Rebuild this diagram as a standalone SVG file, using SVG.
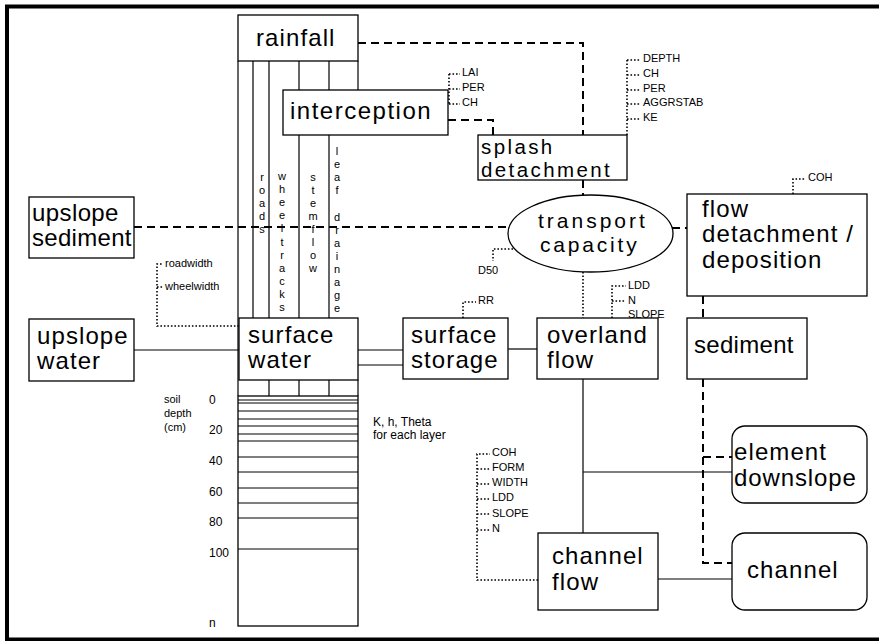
<svg xmlns="http://www.w3.org/2000/svg" width="879" height="641" viewBox="0 0 879 641">
<style>
.box{fill:#fff;stroke:#000;stroke-width:1.3}
.ln{fill:none;stroke:#000;stroke-width:1.2}
.thin{fill:none;stroke:#000;stroke-width:1}
.dash{fill:none;stroke:#000;stroke-width:2;stroke-dasharray:8 5}
.dot{fill:none;stroke:#000;stroke-width:1.6;stroke-dasharray:1.6 1.9}
.frame{fill:none;stroke:#000;stroke-width:4}
text{font-family:"Liberation Sans",Arial,sans-serif;fill:#000}
.lbl{font-size:24px;letter-spacing:1.1px}
.par{font-size:11px}
.vt{font-size:11px;text-anchor:middle}
.soil{font-size:12px}
</style>
<rect width="879" height="641" fill="#fff"/>
<path class="frame" d="M7,641 V6.5 H879 M7,639.5 H879"/>

<g id="column">
<path class="ln" d="M238,61 V396 M253,61 V318 M269,61 V318 M299,61 V90 M299,135 V318 M329,61 V90 M329,135 V318 M358,61 V90"/>
<path class="ln" d="M269,380 V396 M299,380 V396 M329,380 V396 M358,380 V396"/>
<text class="vt"><tspan x="262" y="181">r</tspan><tspan x="262" dy="13.1">o</tspan><tspan x="262" dy="13.1">a</tspan><tspan x="262" dy="13.1">d</tspan><tspan x="262" dy="13.1">s</tspan></text>
<text class="vt"><tspan x="282" y="180">w</tspan><tspan x="282" dy="13.1">h</tspan><tspan x="282" dy="13.1">e</tspan><tspan x="282" dy="13.1">e</tspan><tspan x="282" dy="13.1">l</tspan><tspan x="282" dy="13.1">t</tspan><tspan x="282" dy="13.1">r</tspan><tspan x="282" dy="13.1">a</tspan><tspan x="282" dy="13.1">c</tspan><tspan x="282" dy="13.1">k</tspan><tspan x="282" dy="13.1">s</tspan></text>
<text class="vt"><tspan x="313" y="181">s</tspan><tspan x="313" dy="13">t</tspan><tspan x="313" dy="13">e</tspan><tspan x="313" dy="13">m</tspan><tspan x="313" dy="13">f</tspan><tspan x="313" dy="13">l</tspan><tspan x="313" dy="13">o</tspan><tspan x="313" dy="13">w</tspan></text>
<text class="vt"><tspan x="337" y="155">l</tspan><tspan x="337" dy="13.1">e</tspan><tspan x="337" dy="13.1">a</tspan><tspan x="337" dy="13.1">f</tspan><tspan x="337" dy="26.2">d</tspan><tspan x="337" dy="13.1">r</tspan><tspan x="337" dy="13.1">a</tspan><tspan x="337" dy="13.1">i</tspan><tspan x="337" dy="13.1">n</tspan><tspan x="337" dy="13.1">a</tspan><tspan x="337" dy="13.1">g</tspan><tspan x="337" dy="13.1">e</tspan></text>
</g>

<g id="connectors">
<path class="dash" d="M358,43 H583 V135"/>
<path class="dash" d="M448,120 H493 V135"/>
<path class="dash" d="M583,180 V195"/>
<path class="dash" d="M134,227 H509"/>
<path class="dash" d="M672,228 H687"/>
<path class="dash" d="M703,296 V318"/>
<path class="dash" d="M703,379 V563 H732"/>
<path class="dash" d="M703,457 H732"/>
<path class="dot" d="M583,272 V318"/>
<path class="ln" d="M134,350 H239"/>
<path class="ln" d="M358,350 H403 M358,365 H403"/>
<path class="ln" d="M508,349 H537"/>
<path class="ln" d="M583,379 V533"/>
<path class="ln" d="M583,472 H732"/>
<path class="ln" d="M658,579 H732"/>
</g>

<g id="params">
<path class="dot" d="M449,74 V104 M449,74 H460 M449,89 H460 M449,104 H460"/>
<text class="par" x="462" y="76">LAI</text>
<text class="par" x="462" y="91">PER</text>
<text class="par" x="462" y="106">CH</text>
<path class="dot" d="M627,60 V135 M627,60 H641 M627,75 H641 M627,90 H641 M627,104 H641 M627,119 H641"/>
<text class="par" x="643" y="62">DEPTH</text>
<text class="par" x="643" y="77">CH</text>
<text class="par" x="643" y="92">PER</text>
<text class="par" x="643" y="106">AGGRSTAB</text>
<text class="par" x="643" y="121">KE</text>
<path class="dot" d="M793,194 V179 H806"/>
<text class="par" x="808" y="181">COH</text>
<path class="dot" d="M513,249 H493 V261"/>
<text class="par" x="478" y="274">D50</text>
<path class="dot" d="M463,318 V302 H476"/>
<text class="par" x="478" y="304">RR</text>
<path class="dot" d="M612,318 V286 H626 M612,301 H626"/>
<text class="par" x="628" y="289">LDD</text>
<text class="par" x="628" y="304">N</text>
<text class="par" x="628" y="318">SLOPE</text>
<path class="dot" d="M239,326 H157 V264 H163 M157,287 H163"/>
<text class="par" x="165" y="267">roadwidth</text>
<text class="par" x="165" y="290">wheelwidth</text>
<path class="dot" d="M538,580 H477 V454 H490 M477,469 H490 M477,484 H490 M477,499 H490 M477,514 H490 M477,530 H490"/>
<text class="par" x="492" y="456">COH</text>
<text class="par" x="492" y="471">FORM</text>
<text class="par" x="492" y="486">WIDTH</text>
<text class="par" x="492" y="501">LDD</text>
<text class="par" x="492" y="517">SLOPE</text>
<text class="par" x="492" y="532">N</text>
</g>

<g id="rainfall"><rect class="box" x="238" y="15" width="120" height="46"/><text class="lbl" x="256" y="46">rainfall</text></g>
<g id="interception"><rect class="box" x="283" y="90" width="165" height="45"/><text class="lbl" x="290" y="119" style="letter-spacing:1.5px">interception</text></g>
<g id="splash-detachment"><rect class="box" x="478" y="135" width="149" height="45"/><text class="lbl" x="481" y="154" style="font-size:20.5px;letter-spacing:2.4px">splash</text><text class="lbl" x="481" y="177" style="font-size:20.5px;letter-spacing:2.4px">detachment</text></g>
<g id="upslope-sediment"><rect class="box" x="29" y="197" width="105" height="61"/><text class="lbl" x="32" y="221" style="letter-spacing:0.4px">upslope</text><text class="lbl" x="32" y="246" style="letter-spacing:0.3px">sediment</text></g>
<g id="transport-capacity"><ellipse class="box" cx="590.5" cy="233.5" rx="82.5" ry="38.5"/><text class="lbl" x="538" y="228" style="font-size:21px;letter-spacing:3px">transport</text><text class="lbl" x="540" y="252" style="font-size:21px;letter-spacing:2.8px">capacity</text></g>
<g id="flow-detachment"><rect class="box" x="687" y="194" width="180" height="102"/><text class="lbl" x="702" y="217">flow</text><text class="lbl" x="702" y="242">detachment /</text><text class="lbl" x="702" y="268">deposition</text></g>
<g id="upslope-water"><rect class="box" x="29" y="319" width="105" height="62"/><text class="lbl" x="37" y="344">upslope</text><text class="lbl" x="37" y="369">water</text></g>
<g id="surface-water"><rect class="box" x="239" y="318" width="119" height="62"/><text class="lbl" x="248" y="343">surface</text><text class="lbl" x="248" y="368">water</text></g>
<g id="surface-storage"><rect class="box" x="403" y="318" width="105" height="61"/><text class="lbl" x="411" y="343">surface</text><text class="lbl" x="411" y="368">storage</text></g>
<g id="overland-flow"><rect class="box" x="537" y="318" width="121" height="61"/><text class="lbl" x="547" y="343">overland</text><text class="lbl" x="547" y="368">flow</text></g>
<g id="sediment"><rect class="box" x="687" y="318" width="120" height="61"/><text class="lbl" x="694" y="353" style="letter-spacing:0.3px">sediment</text></g>
<g id="element-downslope"><rect class="box" x="732" y="426" width="135" height="77" rx="13"/><text class="lbl" x="734" y="460">element</text><text class="lbl" x="734" y="486" style="letter-spacing:0.9px">downslope</text></g>
<g id="channel-flow"><rect class="box" x="538" y="533" width="120" height="77"/><text class="lbl" x="552" y="564">channel</text><text class="lbl" x="552" y="590">flow</text></g>
<g id="channel"><rect class="box" x="732" y="533" width="135" height="77" rx="13"/><text class="lbl" x="747" y="578">channel</text></g>

<g id="soil">
<rect class="box" x="238" y="396" width="120" height="230"/>
<path class="thin" d="M238,400 H358 M238,403 H358 M238,411 H358 M238,419 H358 M238,426 H358 M238,434 H358 M238,441 H358 M238,457 H358 M238,472 H358 M238,488 H358 M238,503 H358 M238,518 H358 M238,549 H358"/>
<text class="soil" x="164" y="403" style="font-size:11px">soil</text>
<text class="soil" x="164" y="417" style="font-size:11px">depth</text>
<text class="soil" x="164" y="431" style="font-size:11px">(cm)</text>
<text class="soil" x="209" y="404">0</text>
<text class="soil" x="209" y="434">20</text>
<text class="soil" x="209" y="465">40</text>
<text class="soil" x="209" y="496">60</text>
<text class="soil" x="209" y="526">80</text>
<text class="soil" x="209" y="557">100</text>
<text class="soil" x="209" y="627">n</text>
<text class="soil" x="373" y="426">K, h, Theta</text>
<text class="soil" x="373" y="439">for each layer</text>
</g>
</svg>
